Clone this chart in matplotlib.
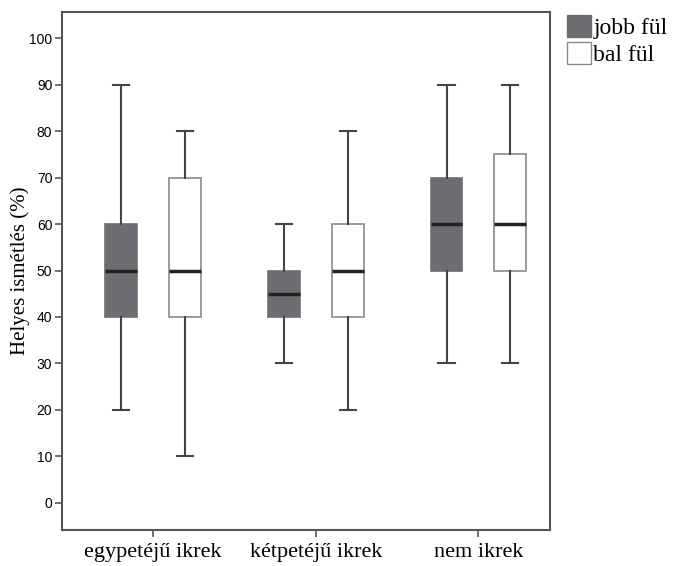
import matplotlib
matplotlib.use("Agg")
import matplotlib.pyplot as plt
from matplotlib.patches import Patch

groups = ["egypetéjű ikrek", "kétpetéjű ikrek", "nem ikrek"]
series = ["jobb fül", "bal fül"]
# per group: [jobb, bal]
whislo = [[20, 10], [30, 20], [30, 30]]
q1 = [[40, 40], [40, 40], [50, 50]]
med = [[50, 50], [45, 50], [60, 60]]
q3 = [[60, 70], [50, 60], [70, 75]]
whishi = [[90, 80], [60, 80], [90, 90]]
yticks = list(range(0, 101, 10))

fills = ["#6d6e71", "#ffffff"]
edges = ["#6d6e71", "#8a8a8a"]


def main():
    fig = plt.figure(figsize=(6.77, 5.66), dpi=100)
    ax = fig.add_axes([0.0916, 0.0636, 0.7208, 0.9152])
    offset = 0.196
    for s in range(2):
        stats = []
        pos = []
        for g in range(3):
            stats.append(dict(whislo=whislo[g][s], q1=q1[g][s], med=med[g][s],
                              q3=q3[g][s], whishi=whishi[g][s], fliers=[]))
            pos.append(g + 1 + (-offset if s == 0 else offset))
        ax.bxp(stats, positions=pos, widths=0.196, patch_artist=True,
               showfliers=False,
               boxprops=dict(facecolor=fills[s], edgecolor=edges[s], linewidth=1.2),
               medianprops=dict(color="#222222", linewidth=2.5),
               whiskerprops=dict(color="#444444", linewidth=1.5),
               capprops=dict(color="#444444", linewidth=1.5),
               capwidths=0.1)
    ax.set_xlim(0.44, 3.44)
    ax.set_ylim(-5.9, 105.7)
    ax.set_xticks([1, 2, 3])
    ax.set_xticklabels(groups, fontsize=16, family=["Liberation Serif"])
    ax.set_yticks(yticks)
    ax.set_yticklabels([str(v) for v in yticks], fontsize=10,
                       family=["Liberation Sans Narrow", "Liberation Sans"])
    ax.tick_params(axis="both", color="#555555", width=1.2, length=5)
    ax.tick_params(axis="x", pad=4)
    ax.tick_params(axis="y", pad=2)
    for sp in ax.spines.values():
        sp.set_color("#555555")
        sp.set_linewidth(1.5)
    ax.set_ylabel("Helyes ismétlés (%)", fontsize=15, family=["Liberation Serif"])
    ax.yaxis.set_label_coords(-0.066, 0.5)
    handles = [Patch(facecolor=fills[i], edgecolor=edges[i]) for i in range(2)]
    fig.legend(handles, series, loc="upper left", bbox_to_anchor=(0.838, 0.973),
               frameon=False, prop=dict(family="Liberation Serif", size=17),
               handlelength=1.0, handleheight=1.05, handletextpad=0.1,
               labelspacing=0.12, borderaxespad=0, borderpad=0)
    fig.savefig("out.png", dpi=100)


if __name__ == "__main__":
    main()
